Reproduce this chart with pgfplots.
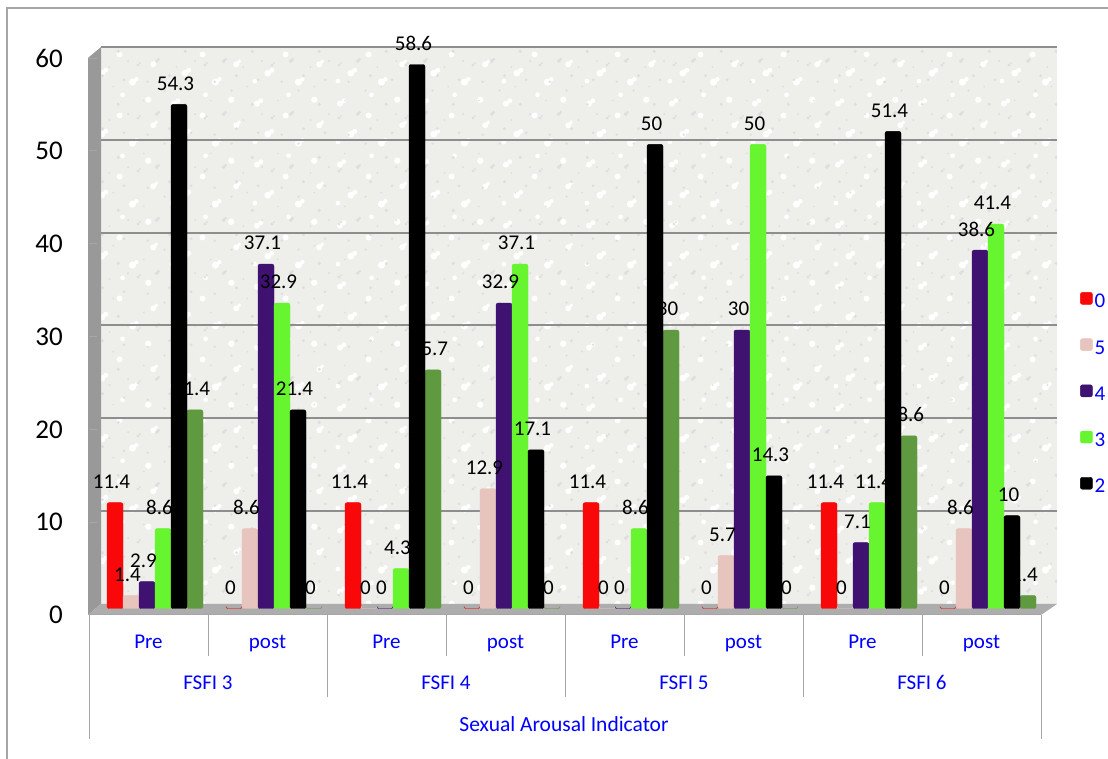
\documentclass[border=0pt]{standalone}
\usepackage{fontspec}
\setmainfont{Carlito}
\usepackage{pgfplots}
\usetikzlibrary{patterns}
\pgfplotsset{compat=1.18}

\definecolor{barred}{HTML}{F80808}
\definecolor{barpink}{HTML}{E8C4BE}
\definecolor{barpurple}{HTML}{3F1170}
\definecolor{bargreen}{HTML}{66F52F}
\definecolor{barolive}{HTML}{5F9A40}
\definecolor{wallgray}{HTML}{EEEEEB}
\definecolor{gridgray}{HTML}{8E8E8E}
\definecolor{framegray}{HTML}{A6A6A6}

% wall texture, two tiles of blotches
\pgfdeclarepatternformonly{specksA}{\pgfqpoint{0pt}{0pt}}{\pgfqpoint{67pt}{53pt}}{\pgfqpoint{67pt}{53pt}}{
  \pgfpathcircle{\pgfqpoint{4pt}{5pt}}{1.6pt}
  \pgfpathcircle{\pgfqpoint{6pt}{7pt}}{1.2pt}
  \pgfpathcircle{\pgfqpoint{14pt}{42pt}}{1.4pt}
  \pgfpathcircle{\pgfqpoint{23pt}{9pt}}{2pt}
  \pgfpathcircle{\pgfqpoint{25pt}{11pt}}{1.5pt}
  \pgfpathcircle{\pgfqpoint{31pt}{33pt}}{1.3pt}
  \pgfpathcircle{\pgfqpoint{10pt}{23pt}}{1pt}
  \pgfpathcircle{\pgfqpoint{43pt}{3pt}}{1.1pt}
  \pgfpathcircle{\pgfqpoint{52pt}{19pt}}{1.8pt}
  \pgfpathcircle{\pgfqpoint{58pt}{44pt}}{1.5pt}
  \pgfpathcircle{\pgfqpoint{47pt}{37pt}}{1pt}
  \pgfpathcircle{\pgfqpoint{62pt}{9pt}}{1.2pt}
  \pgfpathcircle{\pgfqpoint{36pt}{48pt}}{1.7pt}
  \pgfusepath{fill}
}
\pgfdeclarepatternformonly{specksB}{\pgfqpoint{0pt}{0pt}}{\pgfqpoint{83pt}{61pt}}{\pgfqpoint{83pt}{61pt}}{
  \pgfpathcircle{\pgfqpoint{8pt}{46pt}}{3pt}
  \pgfpathcircle{\pgfqpoint{12pt}{49pt}}{2.4pt}
  \pgfpathcircle{\pgfqpoint{19pt}{15pt}}{3.4pt}
  \pgfpathcircle{\pgfqpoint{23pt}{18pt}}{2.5pt}
  \pgfpathcircle{\pgfqpoint{37pt}{34pt}}{3pt}
  \pgfpathcircle{\pgfqpoint{50pt}{6pt}}{3.6pt}
  \pgfpathcircle{\pgfqpoint{54pt}{9pt}}{2.2pt}
  \pgfpathcircle{\pgfqpoint{6pt}{7pt}}{2.4pt}
  \pgfpathcircle{\pgfqpoint{66pt}{50pt}}{3.2pt}
  \pgfpathcircle{\pgfqpoint{71pt}{24pt}}{3pt}
  \pgfpathcircle{\pgfqpoint{74pt}{27pt}}{2pt}
  \pgfpathcircle{\pgfqpoint{40pt}{55pt}}{2.4pt}
  \pgfusepath{fill}
}

\pgfplotstableread{
x    red  pink purple green black olive
0.5  11.4 1.4  2.9    8.6   54.3  21.4
1.5  0    8.6  37.1   32.9  21.4  0
2.5  11.4 0    0      4.3   58.6  25.7
3.5  0    12.9 32.9   37.1  17.1  0
4.5  11.4 0    0      8.6   50    30
5.5  0    5.7  30     50    14.3  0
6.5  11.4 0    7.1    11.4  51.4  18.6
7.5  0    8.6  38.6   41.4  10    1.4
}\fsfi

\begin{document}
\begin{tikzpicture}
\useasboundingbox (0,0) rectangle (1108pt,759pt);

% walls, floor, separators and category text, in pixels of the reference
\begin{scope}[x=1pt,y=-1pt,yshift=759pt]
  \draw[framegray,line width=1.2pt] (7,759) -- (7,8) -- (1108,8);
  \fill[wallgray] (101,47) rectangle (1057,604);
  \fill[pattern=specksB,pattern color=white] (101,47) rectangle (1057,604);
  \fill[pattern=specksA,pattern color=black!14,opacity=.8] (101,47) rectangle (1057,604);
  \draw[gridgray,line width=1.3pt] (101,47) -- (1057,47);
  \foreach \y in {140,233,325,418,511}
    \draw[gridgray,line width=1.3pt] (101,\y) -- (1057,\y);
  \fill[black!40] (88,58) -- (101,47) -- (101,604) -- (88,615) -- cycle;
  \fill[black!32] (88,615) -- (101,604) -- (1057,604) -- (1041,615) -- cycle;
  \draw[framegray,line width=1pt] (88,615) -- (1041,615);
  \draw[framegray,line width=1pt] (89,615) -- (89,739);
  \draw[framegray,line width=1pt] (1041,615) -- (1041,739);
  \foreach \x in {208,446,684,922}
    \draw[framegray,line width=1pt] (\x,615) -- (\x,656);
  \foreach \x in {327,565,803}
    \draw[framegray,line width=1pt] (\x,615) -- (\x,697);
  \foreach \x/\t in {208/FSFI 3,446/FSFI 4,684/FSFI 5,922/FSFI 6}
    \node[anchor=base,text=blue,font=\fontsize{21}{25}\selectfont] at (\x,690) {\t};
  \node[anchor=base,text=blue,font=\fontsize{21.5}{25}\selectfont] at (564,732) {Sexual Arousal Indicator};
\end{scope}

\begin{axis}[
  at={(89pt,144pt)}, anchor=south west,
  scale only axis, width=968pt, height=568pt,
  xmin=0, xmax=8.1345, ymin=0, ymax=61.19,
  clip=false,
  axis line style={draw=none},
  ytick={0,10,...,60},
  xtick={0.5,1.5,...,7.5},
  xticklabels={Pre,post,Pre,post,Pre,post,Pre,post},
  tick pos=left,
  major tick length=8pt,
  x tick style={draw=none},
  y tick style={framegray,line width=1pt},
  xticklabel style={text=blue,font=\fontsize{21}{25}\selectfont,anchor=base,yshift=-26pt},
  yticklabel style={inner sep=0pt,xshift=-26pt,font=\fontsize{27}{32}\selectfont},
  /pgf/number format/assume math mode=true,
  ybar=0pt, bar width=16pt,
  nodes near coords,
  every node near coord/.append style={text=black,anchor=center,inner sep=0pt,xshift=-3.5pt,yshift=21pt,
    font=\fontsize{21}{25}\selectfont},
  legend style={at={(1080pt-89pt,759pt-144pt-292pt)},anchor=north west,draw=none,fill=none,
    font=\fontsize{21}{25}\selectfont,text=blue,row sep=27pt,inner sep=0pt},
  legend cell align=left,
  legend image code/.code={\fill[#1] (0pt,-9pt) rectangle (12pt,3pt);},
  every axis plot/.append style={yshift=6.5pt,rounded corners=2pt},
]
\addplot[fill=barred,draw=barred,bar shift=-33.5pt] table[x=x,y=red] {\fsfi};
\addplot[fill=barpink,draw=barpink,bar shift=-17.5pt] table[x=x,y=pink] {\fsfi};
\addplot[fill=barpurple,draw=barpurple,bar shift=-1.5pt] table[x=x,y=purple] {\fsfi};
\addplot[fill=bargreen,draw=bargreen,bar shift=14.5pt] table[x=x,y=green] {\fsfi};
\addplot[fill=barolive,draw=barolive,bar shift=46.5pt,forget plot] table[x=x,y=olive] {\fsfi};
\addplot[fill=black,draw=black,bar shift=30.5pt] table[x=x,y=black] {\fsfi};
\legend{0,5,4,3,2}
\end{axis}
\end{tikzpicture}
\end{document}
